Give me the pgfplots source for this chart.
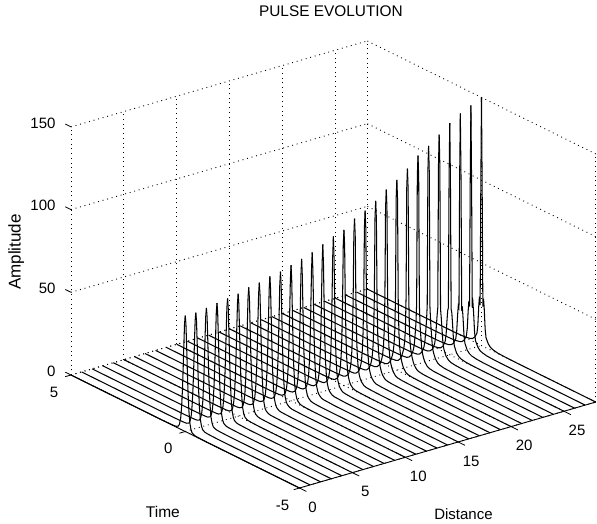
\documentclass[border=0pt]{standalone}
\usepackage{fontspec}
\setmainfont{Liberation Sans}
\usepackage{pgfplots}
\usepackage{pgfplotstable}
\pgfplotsset{compat=1.18}
\pgfplotstableread{
t a0 a1 a2 a3 a4 a5 a6 a7 a8 a9 a10 a11 a12 a13 a14 a15 a16 a17 a18 a19 a20 a21 a22 a23 a24 a25 a26 a27 a28
0 70 70 71 72 73 74 76 77 79 80 82 84 86 89 92 94 99 102 106 111 115 120 126 130 135 140 144 147 150
.03 65.1 64.9 65.6 66.3 67.1 67.8 69.4 70.1 71.3 71.6 72.8 73.9 75.1 77 78.9 84.6 89 91.8 95.4 99.9 103.5 108 113.4 114.4 116 105 105 100 95
.06 52.5 51.9 52.2 52.3 52.5 52.6 53.5 53.6 53.6 52.8 52.6 52.5 52.2 52.4 52.5 50.7 50.1 48.3 46.7 45.4 43.2 41.3 36 33 30 28 26 25 24
.09 37.8 37.2 37 36.9 36.6 36.5 36.7 36.5 35.9 34.7 33.9 33 32.1 31.4 30.6 29.3 28.7 27.4 26.2 25.1 23.5 22 24 24 25 26 27 28 29
.12 25.2 24.6 24.4 24.2 23.9 23.6 23.6 23.3 22.8 21.9 21.2 20.5 19.7 19.1 18.4 17.8 17.6 17 16.5 16.1 15.4 14.8 18 18 19 20 21 22 23
.16 13.7 13.2 13.1 12.8 12.6 12.4 12.3 12 11.8 11.4 11.1 10.8 10.3 10.1 9.8 9.7 9.9 9.9 10 10.1 10.1 10.2 11 11 11 11 11 11 11
.2 6.7 6.6 6.5 6.5 6.4 6.3 6.3 6.2 6.2 6.2 6.2 6.1 6 6.1 6.1 6.2 6.4 6.6 6.9 7.1 7.4 7.6 7.4 7.2 7 6.8 6.5 6.2 6
.25 2.9 2.9 2.9 2.9 2.9 2.8 2.9 2.8 3 3 3.1 3.2 3.3 3.4 3.6 3.7 3.9 4.1 4.4 4.6 4.8 5 5 5 4.9 4.8 4.7 4.6 4.5
.3 1.2 1.2 1.2 1.3 1.3 1.4 1.4 1.5 1.6 1.7 1.8 1.9 2 2.1 2.2 2.3 2.5 2.6 2.8 3 3.1 3.2 3.2 3.2 3.1 3.1 3 3 3
.4 .4 .4 .4 .4 .4 .4 .5 .5 .5 .6 .6 .7 .7 .8 .8 .9 1 1 1.1 1.2 1.2 1.3 1.4 1.4 1.5 1.5 1.5 1.5 1.5
.5 .2 .2 .2 .2 .2 .2 .2 .2 .2 .2 .3 .3 .3 .3 .4 .4 .4 .4 .5 .5 .5 .6 .6 .7 .7 .8 .8 .9 .9
.7 .1 .1 .1 .1 .1 .1 .1 .1 .1 .1 .1 .1 .2 .2 .2 .2 .2 .2 .2 .2 .2 .2 .2 .2 .3 .3 .3 .3 .3
1 0 0 0 0 0 0 0 0 0 0 0 0 0 0 0 .1 .1 .1 .1 .1 .1 .1 .1 .1 .1 .1 .1 .1 .1
1.5 0 0 0 0 0 0 0 0 0 0 0 0 0 0 0 0 0 0 0 0 0 0 0 0 0 0 0 0 0
5 0 0 0 0 0 0 0 0 0 0 0 0 0 0 0 0 0 0 0 0 0 0 0 0 0 0 0 0 0
}\pulse
\begin{document}
\begin{tikzpicture}
\begin{axis}[
  x={(10.58pt,3.07pt)}, y={(-22.85pt,11.3pt)}, z={(0pt,1.654pt)},
  xmin=0,xmax=28,ymin=-5,ymax=5,zmin=0,zmax=150,
  clip=false,
  xtick={0,5,10,15,20,25}, xticklabels={0,5,10,15,20,25},
  ytick={-5,0,5}, yticklabels={-5,0,5},
  ztick={0,50,100,150}, zticklabels={0,50,100,150},
  grid=major,
  grid style={dash pattern=on .9pt off 3.8pt,black,line width=.9pt},
  axis line style={draw=none},
  major tick length=0pt,
  tick label style={font=\fontsize{15}{15}\selectfont},
  xticklabel style={anchor=center,xshift=13pt,yshift=-19pt},
  yticklabel style={anchor=center,xshift=-17pt,yshift=-17pt},
  zticklabel style={anchor=east,xshift=-12pt,yshift=4pt},
  title={PULSE EVOLUTION},
  title style={at={(axis cs:24.57,5,170.9)},anchor=center,font=\fontsize{15.4}{16}\selectfont},
  xlabel={Distance},
  xlabel style={at={(axis cs:15.5,-5,-44.5)},anchor=center,font=\fontsize{15}{15}\selectfont,rotate=0},
  ylabel={Time},
  ylabel style={at={(axis cs:0,.98,-55.4)},anchor=center,font=\fontsize{15.5}{16}\selectfont,rotate=0},
  zlabel={Amplitude},
  zlabel style={at={(axis cs:0,7.4,58)},anchor=center,font=\fontsize{17}{17}\selectfont,rotate=0},
]
\pgfplotsinvokeforeach{0,...,28}{
  \addplot3[black,line width=1.05pt,no marks] table[x expr=#1,y=t,z=a#1]{\pulse};
  \addplot3[black,line width=1.05pt,no marks] table[x expr=#1,y expr=-\thisrow{t},z=a#1]{\pulse};
}
\draw[black,line width=.9pt] (axis cs:0,-5,0) -- (axis cs:28,-5,0);
\draw[black,line width=.9pt] (axis cs:0,-5,0) -- (axis cs:0,5,0);
\pgfplotsinvokeforeach{0,5,10,15,20,25}{
  \draw[black,line width=.8pt] (axis cs:#1,-5,0) -- (axis cs:#1,-5.3,0);
}
\pgfplotsinvokeforeach{-5,0,5}{
  \draw[black,line width=.8pt] (axis cs:0,#1,0) -- (axis cs:-.55,#1,0);
}
\pgfplotsinvokeforeach{0,50,100,150}{
  \draw[black,line width=.8pt] (axis cs:0,5,#1) -- (axis cs:0,5.25,#1);
}
\coordinate (O) at (axis cs:0,5,0);
\end{axis}
\pgfresetboundingbox
\path (O) ++(-71pt,-149pt) rectangle ++(597pt,524pt);
\end{tikzpicture}
\end{document}
